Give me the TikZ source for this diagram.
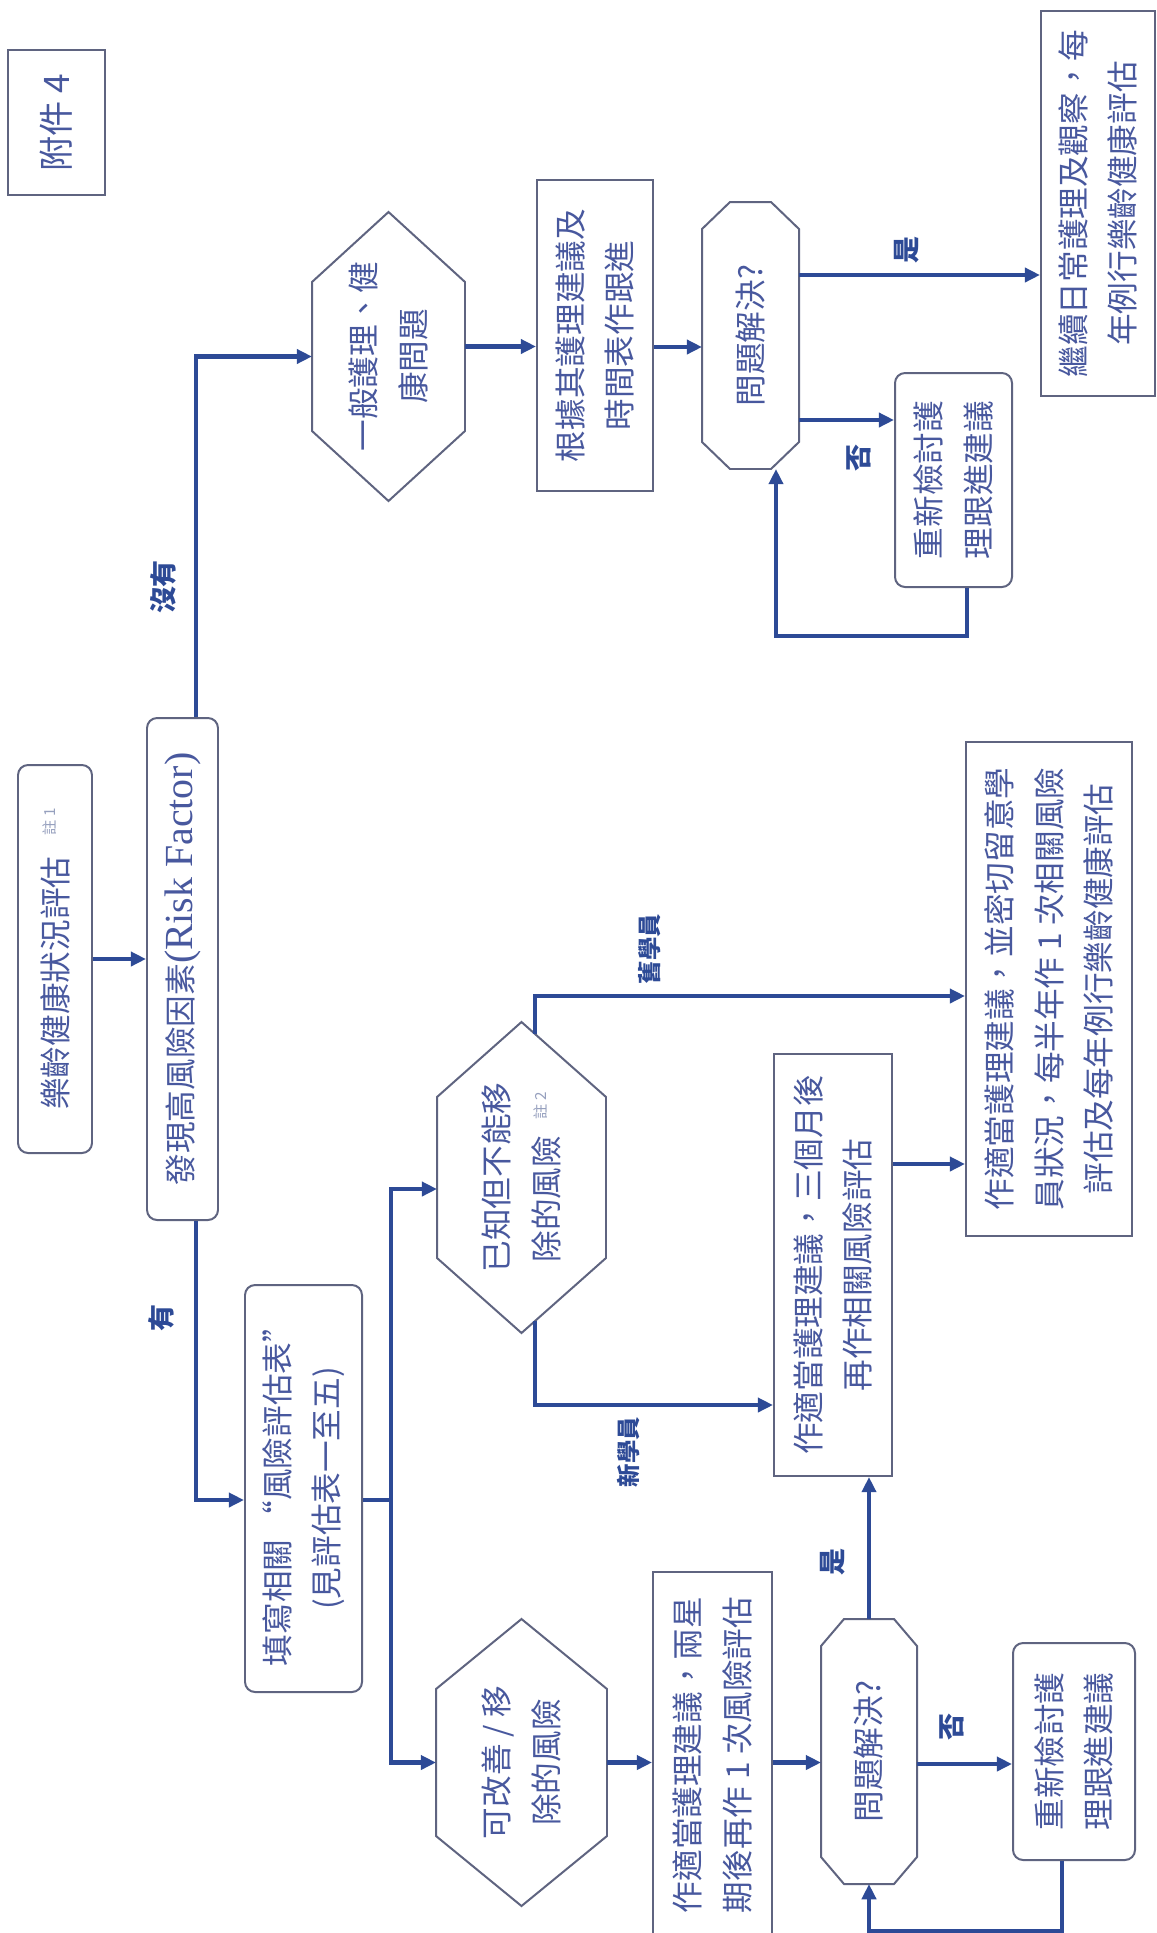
\documentclass[tikz,border=0pt]{standalone}
\usepackage{fontspec}
\setmainfont{Liberation Serif}
\newfontfamily\cjk{Noto Sans CJK TC}
\usetikzlibrary{arrows.meta, calc}
\definecolor{flowblue}{RGB}{45, 74, 150}
\definecolor{boxline}{RGB}{95, 100, 128}
\definecolor{txtblue}{RGB}{72, 88, 158}
\definecolor{notegray}{RGB}{150, 160, 190}

\newcommand{\zhunote}[1]{{\color{notegray}\fontsize{6.5}{7}\selectfont #1}}
% outlines for the decision shapes (page: pointed top/bottom, chamfered)
\newcommand{\hexout}[2]{\draw[shapeline] (#1.east) -- ($(#1.south east)+(0,#2)$) -- ($(#1.south west)+(0,-#2)$) -- (#1.west) -- ($(#1.north west)+(0,-#2)$) -- ($(#1.north east)+(0,#2)$) -- cycle;}
\newcommand{\octout}[3]{\draw[shapeline] ($(#1.north east)+(#2,0)$) -- ($(#1.south east)+(-#2,0)$) -- ($(#1.south east)+(0,#3)$) -- ($(#1.south west)+(0,-#3)$) -- ($(#1.south west)+(-#2,0)$) -- ($(#1.north west)+(#2,0)$) -- ($(#1.north west)+(0,-#3)$) -- ($(#1.north east)+(0,#3)$) -- cycle;}

\tikzset{
  dims/.style 2 args={minimum height={#1*0.015cm}, minimum width={#2*0.015cm}},
  box/.style={draw=boxline, line width=0.85pt, rotate=90, align=center, text=txtblue,
    font=\cjk\fontsize{13.5}{21}\selectfont, inner sep=2pt},
  rbox/.style={box, rounded corners=4.3pt},
  decide/.style={box, draw=none},
  shapeline/.style={draw=boxline, line width=0.85pt},
  flow/.style={draw=flowblue, line width=2.1pt, -{Triangle[length=6.5pt,width=6pt]}},
  link/.style={draw=flowblue, line width=2.1pt},
  lbl/.style={rotate=90, text=flowblue, inner sep=0pt, font=\cjk\bfseries\fontsize{11.5}{12}\selectfont},
  slbl/.style={lbl, font=\cjk\bfseries\fontsize{10}{11}\selectfont}
}

\begin{document}
\begin{tikzpicture}[x=0.015cm, y=-0.015cm]
    \path[use as bounding box, fill=white] (0,0) rectangle (1157,1933);

    % boxes
    \node[box, dims={97}{145}, font=\cjk\fontsize{15}{18}\selectfont] (annex) at (56.5,122.5) {附件 4};
    \node[rbox, dims={74}{388}] (start) at (55,959) {樂齡健康狀況評估\hspace{9pt}\raisebox{5pt}{\zhunote{註 1}}};
    \node[rbox, dims={71}{502}] (risk) at (182.5,969) {發現高風險因素{\rmfamily\fontsize{17}{21}\selectfont(Risk Factor)}};
    \node[rbox, dims={117}{407}] (fill) at (303.5,1488.5) {填寫相關 “風險評估表”\\(見評估表一至五)};

    % no risk factor
    \node[decide, dims={151}{287}] (general) at (388.5,356.5) {一般護理、健\\康問題};
    \node[box, dims={116}{311}] (advice) at (595,335.5) {根據其護理建議及\\時間表作跟進};
    \node[decide, dims={95}{265}] (check1) at (750.5,335.5) {問題解決?};
    \node[rbox, dims={117}{214}] (review1) at (953.5,480) {重新檢討護\\理跟進建議};
    \node[box, dims={114}{385}] (final) at (1098,203.5) {繼續日常護理及觀察，每\\年例行樂齡健康評估};

    % risk factor found
    \node[decide, dims={167}{309}] (known) at (521.5,1177.5) {已知但不能移\\除的風險\hspace{7pt}\raisebox{5pt}{\zhunote{註 2}}};
    \node[decide, dims={169}{285}] (improve) at (521.5,1762.5) {可改善 / 移\\除的風險};
    \node[box, dims={166}{494}] (oldplan) at (1049,989) {作適當護理建議，並密切留意學\\員狀況，每半年作 1 次相關風險\\評估及每年例行樂齡健康評估};
    \node[box, dims={118}{422}] (newplan) at (833,1265) {作適當護理建議，三個月後\\再作相關風險評估};
    \node[box, dims={119}{366}] (fixplan) at (712.5,1755) {作適當護理建議，兩星\\期後再作 1 次風險評估};
    \node[decide, dims={94}{263}] (check2) at (869,1751.5) {問題解決?};
    \node[rbox, dims={122}{217}] (review2) at (1074,1751.5) {重新檢討護\\理跟進建議};

    \hexout{general}{70}
    \hexout{known}{75}
    \hexout{improve}{70}
    \octout{check1}{28}{27}
    \octout{check2}{23}{27}

    % connectors
    \draw[flow] (start.south) -- (start.south -| risk.north);
    \draw[flow] ($(risk.east)+(13.5,0)$) |- (general.north);
    \draw[flow] ($(risk.west)+(13.5,0)$) |- ($(fill.north)+(0,11.5)$);
    \draw[link] ($(fill.south)+(0,11.5)$) -- ++(28,0) coordinate (split);
    \draw[flow] (split) |- ($(known.north)+(0,11.5)$);
    \draw[flow] (split) |- (improve.north);

    \draw[flow] ($(general.south)+(0,-10)$) coordinate (g1) -- (g1 -| advice.north);
    \draw[flow] ($(advice.south)+(0,11.5)$) coordinate (a1) -- (a1 -| check1.north);
    \draw[flow] ($(check1.south)+(0,-60.5)$) coordinate (c1) -- (c1 -| final.north);
    \draw[flow] ($(check1.south)+(0,84.5)$) coordinate (c2) -- (c2 -| review1.north);
    \draw[flow] ($(review1.west)+(13.5,0)$) -- ++(0,48) -| ($(check1.west)+(25.5,0)$);

    \draw[flow] ($(known.east)+(13.5,12)$) |- ($(oldplan.north)+(0,7)$);
    \draw[flow] ($(known.west)+(13.5,-12)$) |- ($(newplan.north)+(0,140)$);
    \draw[flow] ($(newplan.south)+(0,-101)$) coordinate (n1) -- (n1 -| oldplan.north);

    \draw[flow] (improve.south) -- (improve.south -| fixplan.north);
    \draw[flow] (improve.south -| fixplan.south) -- (improve.south -| check2.north);
    \draw[flow] (check2.east) -- (check2.east |- newplan.west);
    \draw[flow] ($(check2.south)+(0,12.5)$) coordinate (c3) -- (c3 -| review2.north);
    \draw[flow] ($(review2.west)+(-12,0)$) -- ++(0,70) -| (check2.west);

    % labels
    \node[lbl] (lnone) at (163,587) {沒有};
    \node[lbl] (lhas) at (161,1318) {有};
    \node[lbl] (lyes1) at (907,250) {是};
    \node[lbl] (lno1) at (859,458) {否};
    \node[slbl] (lold) at (650,949) {舊學員};
    \node[slbl] (lnew) at (628,1452) {新學員};
    \node[lbl] (lyes2) at (833,1562) {是};
    \node[lbl] (lno2) at (952,1727) {否};
\end{tikzpicture}
\end{document}
